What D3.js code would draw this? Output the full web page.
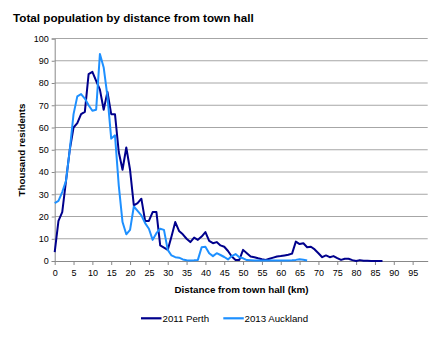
<!DOCTYPE html>
<html><head><meta charset="utf-8">
<script src="https://cdn.jsdelivr.net/npm/d3@7"></script>
<style>body{margin:0;background:#fff}svg{display:block}text{font-family:"Liberation Sans",Arial,sans-serif}</style>
</head><body><svg id="c" width="448" height="337"></svg>
<script>
const title = "Total population by distance from town hall";
const xTitle = "Distance from town hall (km)";
const yTitle = "Thousand residents";
const seriesNames = ["2011 Perth", "2013 Auckland"];
const xTicks = d3.range(0, 100, 5);
const yTicks = d3.range(0, 101, 10);
// values in thousands, one per km from 0
const perth = [4,18,22,36,50,60,62,66,67,84,85,81,77,68,76,66,66,49,41,51,41,25,26,28,18,18,22,22,7,6,5,11,17.5,13.5,12,10,8.5,10.5,9.5,11,13,9,8,8.5,7,6.4,4.5,2,0.5,0.5,5,3.5,2,1.7,1.2,0.8,0.5,1,1.5,2,2.2,2.5,2.8,3.3,8.7,7.6,8,6.2,6.4,5.2,3.5,1.7,2.5,1.7,2.2,1.3,0.5,1,1,0.4,0,0.4,0.1,0.1,0,0,0,0];
const auckland = [26,27,31,36,50,66,74,75,73,70,67.5,68,93,87,74,55,56.5,34,17.5,12,14,24.5,22.5,20.5,17,14.5,9.5,12.5,14.5,14,5,2.5,1.7,1.5,0.7,0.3,0.2,0.3,0.5,6.2,6.4,3.5,2.2,3.5,2.7,1.8,0.7,2.2,3.1,1.7,1.2,0.4,0.3,0.2,0.2,0.2,0.2,0.2,0.2,0.2,0.2,0.2,0.2,0.3,0.5,0.8,0.6,0.2];
const colors = ["#00008c", "#1e90ff"];

const svg = d3.select("#c");
const x = d3.scaleLinear().domain([0, 99]).range([54.7, 427.7]);
const y = d3.scaleLinear().domain([0, 100]).range([261, 38.5]);

svg.append("text").attr("x", 13).attr("y", 21.5).attr("font-size", "11.7px").attr("font-weight", "bold").attr("fill", "#000").text(title);

// gridlines
svg.append("g").selectAll("line").data(yTicks.filter(d => d > 0)).join("line")
  .attr("x1", x(0)).attr("x2", x.range()[1]).attr("y1", d => y(d)).attr("y2", d => y(d))
  .attr("stroke", "#a6a6a6").attr("stroke-width", 1);

// y axis
const ya = svg.append("g").attr("transform", `translate(${x(0)},0)`)
  .call(d3.axisLeft(y).tickValues(yTicks).tickSize(3).tickPadding(3));
ya.select(".domain").attr("stroke", "#888");
ya.selectAll(".tick line").attr("stroke", "#888");
ya.selectAll("text").attr("font-size", "9px").attr("font-family", "Liberation Sans, Arial, sans-serif").attr("fill", "#000");

// x axis
const xa = svg.append("g").attr("transform", `translate(0,${y(0)})`)
  .call(d3.axisBottom(x).tickValues(xTicks).tickSize(4).tickPadding(5).tickSizeOuter(0));
xa.select(".domain").attr("stroke", "#888");
xa.selectAll(".tick line").attr("stroke", "#888");
xa.selectAll("text").attr("font-size", "9px").attr("font-family", "Liberation Sans, Arial, sans-serif").attr("fill", "#000");

svg.append("text").attr("x", 241.5).attr("y", 292.8).attr("text-anchor", "middle")
  .attr("font-size", "9.8px").attr("font-weight", "bold").text(xTitle);
svg.append("text").attr("transform", "translate(25,150) rotate(-90)").attr("text-anchor", "middle")
  .attr("font-size", "9.8px").attr("font-weight", "bold").text(yTitle);

const line = d3.line().x((d, i) => x(i)).y(d => y(d));
[perth, auckland].forEach((s, k) => {
  svg.append("path").datum(s).attr("d", line).attr("fill", "none")
    .attr("stroke", colors[k]).attr("stroke-width", 2).attr("stroke-linejoin", "round");
});

// legend
const leg = [{x: 141, tx: 162.5}, {x: 223.3, tx: 244.5}];
seriesNames.forEach((n, k) => {
  svg.append("line").attr("x1", leg[k].x).attr("x2", leg[k].x + 20.5).attr("y1", 318.3).attr("y2", 318.3)
    .attr("stroke", colors[k]).attr("stroke-width", 2.2);
  svg.append("text").attr("x", leg[k].tx).attr("y", 321.8).attr("font-size", "9.7px").attr("fill", "#000").text(n);
});
</script></body></html>
